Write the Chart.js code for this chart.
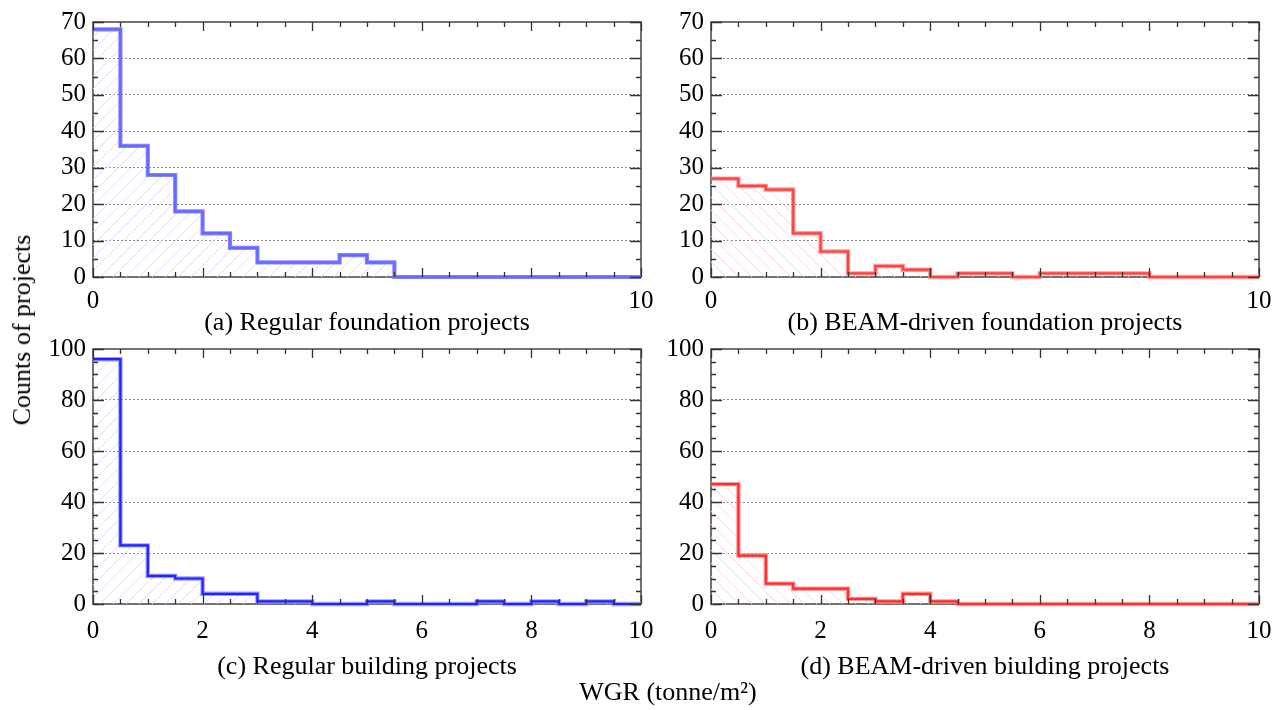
<!DOCTYPE html>
<html>
<head>
<meta charset="utf-8">
<script src="https://cdn.jsdelivr.net/npm/chart.js@4.4.1/dist/chart.umd.min.js"></script>
<style>
html,body{margin:0;padding:0;background:#fff;width:1284px;height:710px;overflow:hidden;position:relative;font-family:"Liberation Serif","Times New Roman",serif;}
canvas{position:absolute;}
.cap{position:absolute;font-size:26px;color:#000;white-space:nowrap;transform:translate(-50%,-50%);line-height:1;}
</style>
</head>
<body>
<canvas id="pa" width="666" height="330"></canvas>
<canvas id="pb" width="666" height="330"></canvas>
<canvas id="pc" width="666" height="330"></canvas>
<canvas id="pd" width="666" height="330"></canvas>
<div class="cap" style="left:367px;top:322px;">(a) Regular foundation projects</div>
<div class="cap" style="left:985px;top:322px;">(b) BEAM-driven foundation projects</div>
<div class="cap" style="left:367px;top:666px;">(c) Regular building projects</div>
<div class="cap" style="left:985px;top:666px;">(d) BEAM-driven biulding projects</div>
<div class="cap" style="left:668px;top:692px;">WGR (tonne/m²)</div>
<div class="cap" style="left:22px;top:330px;transform:translate(-50%,-50%) rotate(-90deg);">Counts of projects</div>
<script>
// ---- data ----
const binEdges = [0,0.5,1,1.5,2,2.5,3,3.5,4,4.5,5,5.5,6,6.5,7,7.5,8,8.5,9,9.5,10];
const regularFoundation = [68,36,28,18,12,8,4,4,4,6,4,0,0,0,0,0,0,0,0,0];
const beamFoundation    = [27,25,24,12,7,1,3,2,0,1,1,0,1,1,1,1,0,0,0,0];
const regularBuilding   = [96,23,11,10,4,4,1,1,0,0,1,0,0,0,1,0,1,0,1,0];
const beamBuilding      = [47,19,8,6,6,2,1,4,1,0,0,0,0,0,0,0,0,0,0,0];
const foundationYMax = 70, foundationYStep = 10;
const buildingYMax = 100, buildingYStep = 20;
const foundationXStep = 10, buildingXStep = 2;

const FONT = "'Liberation Serif', 'Times New Roman', serif";
Chart.defaults.font.family = FONT;
Chart.defaults.color = '#000';

function hatch(color, dir) {
  const s = 13;
  const c = document.createElement('canvas');
  c.width = s; c.height = s;
  const g = c.getContext('2d');
  g.strokeStyle = color; g.lineWidth = 1;
  g.beginPath();
  if (dir === '/') {
    g.moveTo(-1, s + 1); g.lineTo(s + 1, -1);
    g.moveTo(-1, 1); g.lineTo(1, -1);
    g.moveTo(s - 1, s + 1); g.lineTo(s + 1, s - 1);
  } else {
    g.moveTo(-1, -1); g.lineTo(s + 1, s + 1);
    g.moveTo(s - 1, -1); g.lineTo(s + 1, 1);
    g.moveTo(-1, s - 1); g.lineTo(1, s + 1);
  }
  g.stroke();
  return g.createPattern(c, 'repeat');
}

const framePlugin = {
  id: 'frame',
  beforeDatasetsDraw(chart) {
    const {ctx, chartArea: a} = chart;
    ctx.save();
    ctx.strokeStyle = '#444';
    ctx.lineWidth = 1.5;
    ctx.strokeRect(a.left, a.top, a.right - a.left, a.bottom - a.top);
    ctx.restore();
  },
  afterDatasetsDraw(chart, args, opts) {
    const {ctx, chartArea: a, scales} = chart;
    const xs = scales.x, ys = scales.y;
    ctx.save();
    ctx.strokeStyle = '#333';
    ctx.lineWidth = 1.3;
    ctx.beginPath();
    const yMax = ys.max, yMajor = opts.yMajor;
    for (let v = 0; v <= yMax + 1e-9; v += 5) {
      const p = Math.round(ys.getPixelForValue(v)) + 0.5;
      const len = (Math.abs(v % yMajor) < 1e-9) ? 11 : 5;
      ctx.moveTo(a.left, p); ctx.lineTo(a.left + len, p);
      ctx.moveTo(a.right, p); ctx.lineTo(a.right - len, p);
    }
    for (let v = 0; v <= 10 + 1e-9; v += 0.5) {
      const p = Math.round(xs.getPixelForValue(v)) + 0.5;
      const len = (Math.abs(v % 2) < 1e-9) ? 9 : 5;
      ctx.moveTo(p, a.bottom); ctx.lineTo(p, a.bottom - len);
      ctx.moveTo(p, a.top); ctx.lineTo(p, a.top + len);
    }
    ctx.stroke();
    ctx.restore();
  }
};

function makePanel(id, areaLeft, areaTop, counts, yMax, yStep, xStep, xPad, halo, haloW, core, coreW, hatchColor, dir) {
  const cv = document.getElementById(id);
  cv.style.left = (areaLeft - 93) + 'px';
  cv.style.top = (areaTop - 20) + 'px';
  const pts = binEdges.map((x, i) => ({x: x, y: counts[Math.min(i, counts.length - 1)]}));
  new Chart(cv, {
    type: 'line',
    data: {
      datasets: [
        // drawn on top (Chart.js draws dataset 0 last)
        {data: pts, stepped: 'before', borderColor: core, borderWidth: coreW, pointRadius: 0,
         fill: false, borderJoinStyle: 'miter', clip: 6},
        {data: pts, stepped: 'before', borderColor: halo, borderWidth: haloW, pointRadius: 0,
         fill: 'origin', backgroundColor: hatch(hatchColor, dir), borderJoinStyle: 'miter', clip: 6}
      ]
    },
    options: {
      responsive: false, animation: false, devicePixelRatio: 1,
      layout: {padding: {top: 20, right: 25, left: 0, bottom: 0}},
      plugins: {legend: {display: false}, tooltip: {enabled: false}, frame: {yMajor: yStep}},
      scales: {
        x: {
          type: 'linear', min: 0, max: 10,
          ticks: {stepSize: xStep, color: '#000', font: {family: FONT, size: 25, weight: 'normal'}, padding: xPad, maxRotation: 0, autoSkip: false},
          grid: {display: false, drawTicks: false},
          border: {display: false},
          afterFit(s) { s.height = 53; }
        },
        y: {
          type: 'linear', min: 0, max: yMax,
          ticks: {stepSize: yStep, color: '#000', font: {family: FONT, size: 25, weight: 'normal'}, padding: 7},
          grid: {drawTicks: false, lineWidth: 1,
                 color: (c) => (c.tick && (c.tick.value === 0 || c.tick.value === yMax)) ? 'rgba(0,0,0,0)' : '#8a8a8a'},
          border: {display: false, dash: [2, 2]},
          afterFit(s) { s.width = 93; }
        }
      }
    },
    plugins: [framePlugin]
  });
}

makePanel('pa', 93, 20, regularFoundation, foundationYMax, foundationYStep, foundationXStep, 9,
  'rgba(125,125,255,0.9)', 4.2, 'rgba(105,105,255,1)', 2.4, '#dcdcff', '/');
makePanel('pb', 711, 20, beamFoundation, foundationYMax, foundationYStep, foundationXStep, 9,
  'rgba(255,140,140,0.85)', 4.4, 'rgba(255,65,65,1)', 2.2, '#ffd6d6', '\\');
makePanel('pc', 93, 347, regularBuilding, buildingYMax, buildingYStep, buildingXStep, 12,
  'rgba(140,140,255,0.85)', 4.4, 'rgba(35,35,255,1)', 2.2, '#dcdcff', '/');
makePanel('pd', 711, 347, beamBuilding, buildingYMax, buildingYStep, buildingXStep, 12,
  'rgba(255,140,140,0.85)', 4.4, 'rgba(255,45,45,1)', 2.2, '#ffd6d6', '\\');
</script>
</body>
</html>
